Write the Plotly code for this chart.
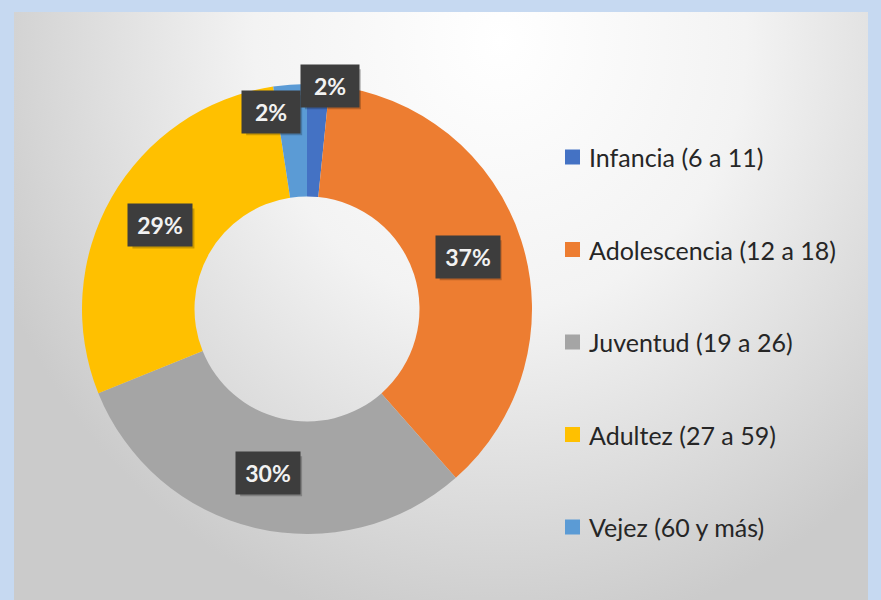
import numpy as np
import plotly.graph_objects as go

# data
categories = ["Infancia (6 a 11)", "Adolescencia (12 a 18)", "Juventud (19 a 26)",
              "Adultez (27 a 59)", "Vejez (60 y más)"]
shares = [1.6, 36.9, 30.4, 28.7, 2.4]
colors = ["#4472c4", "#ed7d31", "#a5a5a5", "#ffc000", "#5b9bd5"]

W, H = 881, 600
CX, CY = 307, 309          # donut centre in pixels
R_OUT, R_IN = 225, 112.5
PANEL = (14, 868, 12, 600)  # x0, x1, y0, y1

fig = go.Figure()

# background panel with radial gradient (centre pushed to the top)
gx0, gx1 = PANEL[0] - 60, 2 * 500 - PANEL[0] + 60
gy0, gy1 = 40 - 600, 640
fig.add_trace(go.Scatter(
    x=[gx0, gx1, gx1, gx0, gx0], y=[gy0, gy0, gy1, gy1, gy0],
    mode="lines", line=dict(width=0), fill="toself",
    fillgradient=dict(type="radial", colorscale=[[0, "#ffffff"], [0.45, "#f3f3f3"], [1, "#cbcbcb"]]),
    xaxis="x2", yaxis="y2", hoverinfo="skip", showlegend=False,
))

# soft shadow under the ring
t = np.linspace(0, 2 * np.pi, 121)
fig.add_trace(go.Scatter(
    x=CX + (R_OUT + 2) * np.cos(t), y=CY + 5 + (R_OUT + 2) * np.sin(t),
    mode="lines", line=dict(width=0), fill="toself", fillcolor="rgba(0,0,0,0.09)",
    hoverinfo="skip", showlegend=False,
))

fig.add_trace(go.Pie(
    labels=categories, values=shares, sort=False, direction="clockwise",
    rotation=0, hole=0.5, textinfo="none",
    marker=dict(colors=colors, line=dict(width=0)),
    domain=dict(x=[(CX - R_OUT) / W, (CX + R_OUT) / W],
                y=[(H - CY - R_OUT) / H, (H - CY + R_OUT) / H]),
    showlegend=False,
))

# data labels: dark boxes at the middle of each ring segment
vals = np.array(shares)
cum = np.cumsum(vals) - vals / 2
mid_deg = cum / vals.sum() * 360
nudge = {0: (224, 3), 4: (200, -6)}  # Excel moved the two small labels
annotations = []
shapes = [dict(type="rect", xref="x", yref="y", x0=553, x1=850, y0=108, y1=572,
               fillcolor="rgba(255,255,255,0.4)", line=dict(width=0), layer="below")]
for i, (v, ang) in enumerate(zip(vals, mid_deg)):
    r, d = nudge.get(i, ((R_OUT + R_IN) / 2, 0))
    a = np.radians(ang + d)
    px, py = CX + r * np.sin(a), CY - r * np.cos(a)
    txt = f"{round(v / vals.sum() * 100)}%"
    bw = 56 if len(txt) == 2 else 62
    shapes.append(dict(type="rect", xref="x", yref="y",
                       x0=px - bw / 2 + 3, x1=px + bw / 2 + 3, y0=py - 17, y1=py + 23,
                       fillcolor="rgba(0,0,0,0.22)", line=dict(width=0), layer="above"))
    annotations.append(dict(x=px, y=py, xref="x", yref="y", text=f"<b>{txt}</b>", showarrow=False,
                            width=bw, height=40, bgcolor="#3d3d3d",
                            font=dict(family="Lato", size=23, color="#f2f2f2")))

# legend drawn by hand to match the wide spacing
for i, (c, col) in enumerate(zip(categories, colors)):
    yy = 157 + i * 92.5
    shapes.append(dict(type="rect", xref="x", yref="y", x0=565, x1=580, y0=yy - 7.5, y1=yy + 7.5,
                       fillcolor=col, line=dict(width=0)))
    annotations.append(dict(x=587, y=yy, xref="x", yref="y", text=c, showarrow=False,
                            xanchor="left", yanchor="middle",
                            font=dict(family="Lato", size=25, color="#262626")))

fig.update_layout(
    width=W, height=H, margin=dict(l=0, r=0, t=0, b=0),
    paper_bgcolor="#c6d9f1", plot_bgcolor="rgba(0,0,0,0)",
    xaxis=dict(domain=[0, 1], range=[0, W], visible=False, fixedrange=True),
    yaxis=dict(domain=[0, 1], range=[H, 0], visible=False, fixedrange=True),
    xaxis2=dict(domain=[PANEL[0] / W, PANEL[1] / W], range=[PANEL[0], PANEL[1]],
                visible=False, anchor="y2", fixedrange=True),
    yaxis2=dict(domain=[0, (H - PANEL[2]) / H], range=[PANEL[3], PANEL[2]],
                visible=False, anchor="x2", fixedrange=True),
    shapes=shapes, annotations=annotations,
)

fig.write_html("out.html", config={"displayModeBar": False},
               post_script="document.body.style.margin='0';")
